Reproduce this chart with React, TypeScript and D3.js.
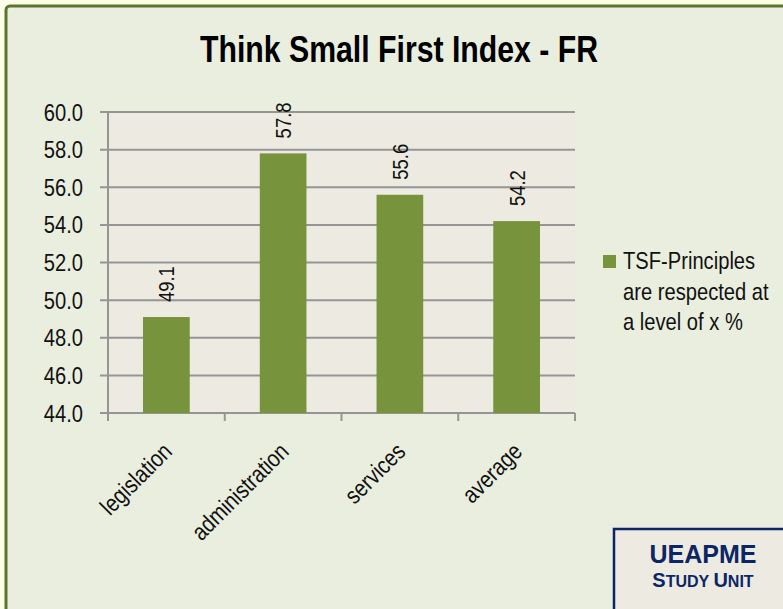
import React, { useEffect, useRef } from 'react';
import * as d3 from 'd3';

const categories = ['legislation', 'administration', 'services', 'average'];
const values = [49.1, 57.8, 55.6, 54.2];
const yTicks = [44, 46, 48, 50, 52, 54, 56, 58, 60];
const seriesName = ['TSF-Principles', 'are respected at', 'a level of x %'];

const W = 783;
const H = 609;

const App: React.FC = () => {
  const svgRef = useRef<SVGSVGElement>(null);

  useEffect(() => {
    if (!svgRef.current) return;
    const svg = d3.select(svgRef.current);
    svg.selectAll('*').remove();

    const font = 'Liberation Sans, Arial, sans-serif';
    const narrowScale = 0.84; // Arial Narrow look

    // page background + chart frame
    svg.append('rect').attr('width', W).attr('height', H).attr('fill', '#fdfde8');
    svg.append('rect')
      .attr('x', 6).attr('y', 6).attr('width', W + 20).attr('height', H + 20)
      .attr('rx', 4)
      .attr('fill', '#eaeedf').attr('stroke', '#5b7431').attr('stroke-width', 3);

    const x = d3.scaleBand().domain(categories).range([108, 575]).paddingInner(0.6).paddingOuter(0.3);
    const y = d3.scaleLinear().domain([44, 60]).range([413, 112]);

    // plot area
    svg.append('rect')
      .attr('x', 108).attr('y', 112).attr('width', 467).attr('height', 301)
      .attr('fill', '#edebe1');

    // gridlines
    svg.append('g').selectAll('line').data(yTicks).enter().append('line')
      .attr('x1', 100).attr('x2', 575)
      .attr('y1', d => y(d)).attr('y2', d => y(d))
      .attr('stroke', '#959595').attr('stroke-width', 2);

    // y axis line
    svg.append('line').attr('x1', 108).attr('x2', 108).attr('y1', 112).attr('y2', 421)
      .attr('stroke', '#959595').attr('stroke-width', 2);

    // category ticks
    const edges = [0, 1, 2, 3, 4].map(i => 108 + (467 / 4) * i);
    svg.append('g').selectAll('line').data(edges).enter().append('line')
      .attr('x1', d => d).attr('x2', d => d).attr('y1', 413).attr('y2', 421)
      .attr('stroke', '#959595').attr('stroke-width', 2);

    // y tick labels
    svg.append('g').selectAll('text').data(yTicks).enter().append('text')
      .attr('transform', d => `translate(83,${y(d) + 8.5}) scale(${narrowScale},1)`)
      .attr('text-anchor', 'end')
      .attr('font-family', font).attr('font-size', 24)
      .attr('fill', '#111')
      .text(d => d.toFixed(1));

    // bars
    svg.append('g').selectAll('rect').data(values).enter().append('rect')
      .attr('x', (_, i) => x(categories[i])!)
      .attr('y', d => y(d))
      .attr('width', x.bandwidth())
      .attr('height', d => y(44) - y(d))
      .attr('fill', '#77933c');

    // value labels
    svg.append('g').selectAll('text').data(values).enter().append('text')
      .attr('transform', (d, i) => {
        const cx = x(categories[i])! + x.bandwidth() / 2 + 8;
        return `translate(${cx},${y(d) - 15}) rotate(-90) scale(${narrowScale},1)`;
      })
      .attr('font-family', font).attr('font-size', 22)
      .attr('fill', '#111')
      .text(d => d.toFixed(1));

    // category labels
    svg.append('g').selectAll('text').data(categories).enter().append('text')
      .attr('transform', d => {
        const cx = x(d)! + x.bandwidth() / 2 + 7;
        return `translate(${cx},${453}) rotate(-45) scale(${narrowScale},1)`;
      })
      .attr('text-anchor', 'end')
      .attr('font-family', font).attr('font-size', 24)
      .attr('fill', '#111')
      .text(d => d);

    // title
    svg.append('text')
      .attr('x', 399).attr('y', 62)
      .attr('text-anchor', 'middle')
      .attr('font-family', font).attr('font-weight', 'bold').attr('font-size', 36)
      .attr('textLength', 398).attr('lengthAdjust', 'spacingAndGlyphs')
      .attr('fill', '#000')
      .text('Think Small First Index - FR');

    // legend
    svg.append('rect').attr('x', 603).attr('y', 255).attr('width', 13).attr('height', 13)
      .attr('fill', '#77933c');
    svg.append('g').selectAll('text').data(seriesName).enter().append('text')
      .attr('transform', (_, i) => `translate(623,${269 + i * 30.5}) scale(${narrowScale},1)`)
      .attr('font-family', font).attr('font-size', 24)
      .attr('fill', '#111')
      .text(d => d);

    // study unit box
    svg.append('rect')
      .attr('x', 614).attr('y', 529).attr('width', 200).attr('height', 120)
      .attr('fill', '#edebe1').attr('stroke', '#0b2565').attr('stroke-width', 2.5);
    svg.append('text')
      .attr('x', 703).attr('y', 563)
      .attr('text-anchor', 'middle')
      .attr('font-family', font).attr('font-weight', 'bold').attr('font-size', 25)
      .attr('fill', '#0b2565')
      .text('UEAPME');
    const su = svg.append('text')
      .attr('x', 703).attr('y', 587)
      .attr('text-anchor', 'middle')
      .attr('font-family', font).attr('font-weight', 'bold').attr('font-size', 20)
      .attr('fill', '#0b2565');
    su.append('tspan').text('S');
    su.append('tspan').attr('font-size', 16).text('TUDY ');
    su.append('tspan').text('U');
    su.append('tspan').attr('font-size', 16).text('NIT');
  }, []);

  return (
    <svg
      ref={svgRef}
      width={W}
      height={H}
      style={{ position: 'absolute', left: 0, top: 0, display: 'block' }}
    />
  );
};

export default App;
